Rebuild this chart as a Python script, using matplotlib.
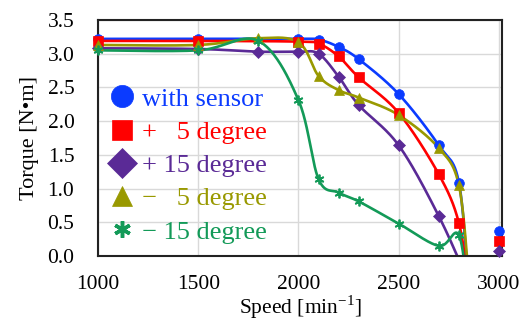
import numpy as np
import matplotlib
matplotlib.use("Agg")
import matplotlib.pyplot as plt
from matplotlib.lines import Line2D

plt.rcParams['font.family'] = ['Liberation Serif', 'DejaVu Serif']
plt.rcParams['mathtext.fontset'] = 'custom'
plt.rcParams['mathtext.rm'] = 'Liberation Serif'

# ---- data ----
# last negative value = where the curve leaves the plot below 0
speed_sensor = [1000, 1500, 2000, 2100, 2200, 2300, 2500, 2700, 2800, 2850]
torque_sensor = [3.22, 3.22, 3.22, 3.21, 3.10, 2.92, 2.40, 1.64, 1.09, -0.56]

speed_p5 = [1000, 1500, 2000, 2100, 2200, 2300, 2500, 2700, 2800, 2850]
torque_p5 = [3.19, 3.19, 3.18, 3.15, 2.96, 2.65, 2.12, 1.21, 0.49, -0.49]

speed_p15 = [1000, 1500, 1800, 2000, 2100, 2200, 2300, 2500, 2700, 2850]
torque_p15 = [3.08, 3.07, 3.03, 3.03, 3.00, 2.66, 2.24, 1.64, 0.59, -0.40]

speed_m5 = [1000, 1500, 1800, 2000, 2100, 2200, 2300, 2500, 2700, 2800, 2850]
torque_m5 = [3.13, 3.13, 3.23, 3.17, 2.67, 2.46, 2.35, 2.09, 1.60, 1.05, -0.35]

speed_m15 = [1000, 1500, 1800, 2000, 2100, 2200, 2300, 2500, 2700, 2800, 2850]
torque_m15 = [3.05, 3.05, 3.19, 2.31, 1.14, 0.94, 0.81, 0.48, 0.15, 0.31, -0.72]

# points at 3000 min-1 (reached from below the axis)
speed_end = [3000, 3000, 3000, None, None]
torque_end = [0.37, 0.22, 0.08, None, None]

labels = ["with sensor", "+   5 degree", "+ 15 degree", "\u2212   5 degree", "\u2212 15 degree"]
colors = ['#0B3BFF', '#FF0000', '#5A2A96', '#999900', '#139A58']
markers = ['o', 's', 'D', '^', (6, 2, 0)]
xticks = [1000, 1500, 2000, 2500, 3000]
yticks = [0.0, 0.5, 1.0, 1.5, 2.0, 2.5, 3.0, 3.5]

XMIN, XMAX, YMIN, YMAX = 1000, 3015, 0.0, 3.5
AX_W, AX_H = 404.0, 236.0


def smooth(xs, ys, n=40):
    """Excel-like smoothed line (cardinal Bezier) computed in pixel space."""
    px = (np.asarray(xs, float) - XMIN) / (XMAX - XMIN) * AX_W
    py = (np.asarray(ys, float) - YMIN) / (YMAX - YMIN) * AX_H
    P = np.column_stack([px, py])
    out = []
    m = len(P)
    for i in range(m - 1):
        p0 = P[i - 1] if i > 0 else P[i]
        p1 = P[i]
        p2 = P[i + 1]
        p3 = P[i + 2] if i + 2 < m else P[i + 1]
        c1 = p1 + (p2 - p0) / 6.0
        c2 = p2 - (p3 - p1) / 6.0
        t = np.linspace(0, 1, n)[:, None]
        seg = ((1 - t) ** 3) * p1 + 3 * ((1 - t) ** 2) * t * c1 + 3 * (1 - t) * t ** 2 * c2 + t ** 3 * p2
        out.append(seg if i == 0 else seg[1:])
    S = np.vstack(out)
    x = S[:, 0] / AX_W * (XMAX - XMIN) + XMIN
    y = S[:, 1] / AX_H * (YMAX - YMIN) + YMIN
    return x, y


fig = plt.figure(figsize=(5.27, 3.2), dpi=100)
ax = fig.add_axes([98 / 527, 1 - 256 / 320, (502 - 98) / 527, (256 - 20) / 320])

series = [(speed_sensor, torque_sensor), (speed_p5, torque_p5), (speed_p15, torque_p15),
          (speed_m5, torque_m5), (speed_m15, torque_m15)]
msizes = [7, 7, 6.5, 7.5, 7]

order = [4, 3, 2, 1, 0]
for i in order:
    xs, ys = series[i]
    sx, sy = smooth(xs, ys)
    ax.plot(sx, sy, color=colors[i], lw=1.9, zorder=2 + i * 0.1, solid_capstyle='round')
    vis = [(x, y) for x, y in zip(xs, ys) if y >= YMIN]
    ax.plot([v[0] for v in vis], [v[1] for v in vis], linestyle='none', marker=markers[i],
            markersize=msizes[i], color=colors[i], markeredgewidth=1.3 if i == 4 else 0.5,
            zorder=3 + i * 0.1, clip_on=False)
    if speed_end[i] is not None:
        ax.plot([speed_end[i], speed_end[i]], [YMIN - 1, torque_end[i]], color=colors[i],
                lw=1.9, zorder=2 + i * 0.1)
        ax.plot([speed_end[i]], [torque_end[i]], linestyle='none', marker=markers[i],
                markersize=msizes[i], color=colors[i], markeredgewidth=0.5,
                zorder=3 + i * 0.1, clip_on=False)

ax.set_xlim(XMIN, XMAX)
ax.set_ylim(YMIN, YMAX)
ax.set_xticks(xticks)
ax.set_yticks(yticks)
ax.set_yticklabels([f"{v:.1f}" for v in yticks])
ax.grid(True, color='#d9d9d9', lw=1.0)
ax.set_axisbelow(True)
ax.tick_params(length=0, labelsize=15.5, colors='black')
ax.tick_params(axis='x', pad=14)
ax.tick_params(axis='y', pad=17)
for s in ax.spines.values():
    s.set_color('#222222')
    s.set_linewidth(1.5)

ax.set_xlabel("Speed [min$^{\\mathregular{-1}}$]", fontsize=15.5)
ax.xaxis.label.set_va('center')
ax.xaxis.set_label_coords((300 - 98) / 404, -(307 - 256) / 236)
ax.set_ylabel("Torque [N\u2022m]", fontsize=16, labelpad=6)

handles = []
leg_ms = [16, 14, 15, 15, 12]
for i in range(5):
    handles.append(Line2D([], [], linestyle='none', marker=markers[i], markersize=leg_ms[i],
                          color=colors[i], markeredgewidth=2.5 if i == 4 else 0.5))
leg = ax.legend(handles, labels, loc='upper left', bbox_to_anchor=(0.0, 0.76),
                frameon=False, fontsize=19, labelcolor=colors, handlelength=1.0,
                handletextpad=0.25, labelspacing=0.37, borderpad=0.2, borderaxespad=0.2)

fig.savefig("out.png", dpi=100)
